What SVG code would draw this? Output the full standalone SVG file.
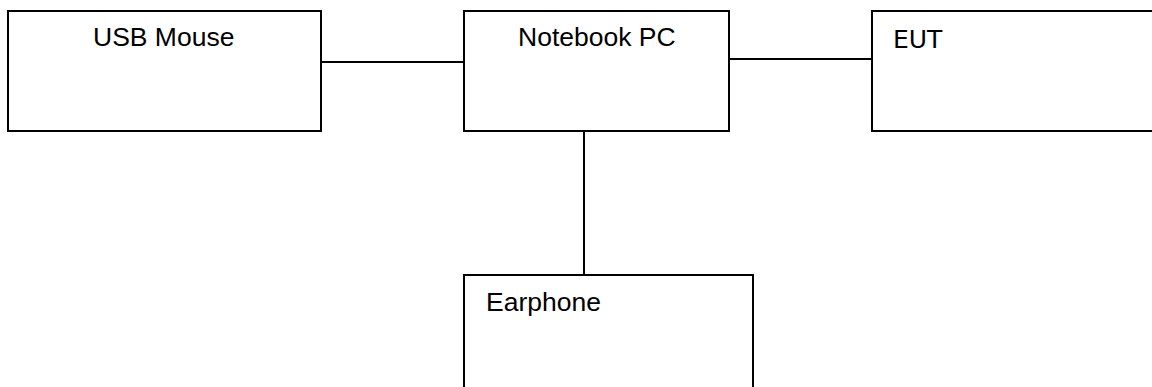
<svg xmlns="http://www.w3.org/2000/svg" width="1152" height="387" viewBox="0 0 1152 387">
  <style>
    .box { fill: #ffffff; stroke: #000000; stroke-width: 2; }
    .wire { fill: none; stroke: #000000; stroke-width: 2; }
    .label { font-family: "Liberation Sans", Arial, sans-serif; font-size: 26.5px; fill: #000000; }
    .label-alt { font-family: "DejaVu Sans", sans-serif; font-size: 25px; fill: #000000; }
  </style>
  <rect width="1152" height="387" fill="#ffffff"/>

  <!-- cables between devices -->
  <g id="connectors">
    <line class="wire" x1="321" y1="62" x2="464" y2="62"/>
    <line class="wire" x1="729" y1="59" x2="872" y2="59"/>
    <line class="wire" x1="584" y1="131" x2="584" y2="275"/>
  </g>

  <g id="usb-mouse">
    <rect class="box" x="8" y="11" width="313" height="120"/>
    <text class="label" x="93" y="46">USB Mouse</text>
  </g>

  <g id="notebook-pc">
    <rect class="box" x="464" y="11" width="265" height="120"/>
    <text class="label" x="518" y="46">Notebook PC</text>
  </g>

  <g id="eut">
    <rect class="box" x="872" y="11" width="290" height="120"/>
    <text class="label-alt" x="893" y="48">EUT</text>
  </g>

  <g id="earphone">
    <rect class="box" x="464" y="275" width="289" height="130"/>
    <text class="label" x="486" y="311">Earphone</text>
  </g>
</svg>
